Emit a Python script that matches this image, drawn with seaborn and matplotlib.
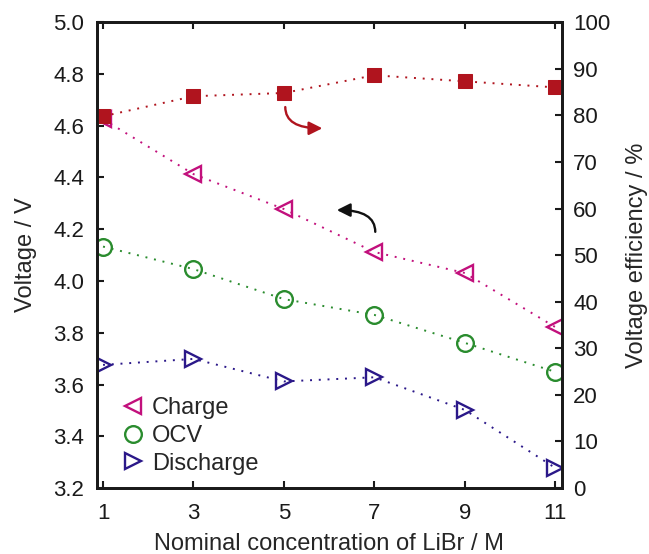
import matplotlib
matplotlib.use("Agg")
import matplotlib.pyplot as plt
import seaborn as sns
import pandas as pd
from matplotlib.lines import Line2D

# data
conc = [1, 3, 5, 7, 9, 11]
charge = [4.625, 4.413, 4.278, 4.112, 4.031, 3.822]
ocv = [4.133, 4.046, 3.930, 3.869, 3.761, 3.649]
discharge = [3.676, 3.699, 3.612, 3.628, 3.502, 3.278]
efficiency = [79.8, 84.1, 84.8, 88.6, 87.3, 86.0]

sns.set_style("white")
plt.rcParams["font.family"] = ["Liberation Sans", "DejaVu Sans"]

c_charge = "#c2107c"
c_ocv = "#2a8c2e"
c_dis = "#2b1889"
c_eff = "#b0141e"
dots = (0, (1, 3.5))

df = pd.DataFrame({"conc": conc, "Charge": charge, "OCV": ocv,
                   "Discharge": discharge, "eff": efficiency})

fig = plt.figure(figsize=(6.49, 5.54), dpi=100)
ax = fig.add_axes([0.149, 0.119, 0.717, 0.841])

series = [("Charge", "<", c_charge), ("OCV", "o", c_ocv), ("Discharge", ">", c_dis)]
for name, m, c in series:
    sns.lineplot(data=df, x="conc", y=name, ax=ax, color=c, linestyle=dots,
                 linewidth=1.4, marker=m, markersize=12, markerfacecolor="none",
                 markeredgecolor=c, markeredgewidth=1.7, legend=False)

ax.set_xlim(0.86, 11.15)
ax.set_ylim(3.2, 5.0)
ax.set_xticks(conc)
ax.set_yticks([3.2 + 0.2 * i for i in range(10)])
ax.set_yticklabels([f"{3.2 + 0.2 * i:.1f}" for i in range(10)])
ax.set_xlabel("Nominal concentration of LiBr / M", fontsize=17, labelpad=6)
ax.set_ylabel("Voltage / V", fontsize=17, labelpad=12)

ax2 = ax.twinx()
sns.lineplot(data=df, x="conc", y="eff", ax=ax2, color=c_eff, linestyle=dots,
             linewidth=1.4, marker="s", markersize=10, markerfacecolor=c_eff,
             markeredgecolor=c_eff, legend=False)
ax2.set_ylim(0, 100)
ax2.set_yticks(range(0, 101, 10))
ax2.set_ylabel("Voltage efficiency / %", fontsize=17, labelpad=11)
ax2.set_xlabel("")

for a in (ax, ax2):
    a.tick_params(direction="in", length=5, width=1.5, labelsize=16,
                  colors="#1a1a1a")
    for s in a.spines.values():
        s.set_linewidth(2)
        s.set_color("#1a1a1a")
ax.tick_params(axis="x", bottom=True, top=True, pad=11)
ax.tick_params(axis="y", left=True, right=False, pad=9)
ax2.tick_params(axis="y", right=True, pad=8)
ax2.tick_params(axis="x", bottom=False, top=False, labelbottom=False)

# curved arrows pointing to the relevant axis
ax.annotate("", xy=(5.85, 4.59), xytext=(5.03, 4.672),
            arrowprops=dict(arrowstyle="-|>", color=c_eff, lw=1.7,
                            mutation_scale=20, shrinkA=0, shrinkB=0,
                            connectionstyle="angle3,angleA=90,angleB=0"))
ax.annotate("", xy=(6.17, 4.274), xytext=(7.02, 4.19),
            arrowprops=dict(arrowstyle="-|>", color="#111111", lw=1.7,
                            mutation_scale=20, shrinkA=0, shrinkB=0,
                            connectionstyle="angle3,angleA=90,angleB=0"))

handles = [Line2D([], [], linestyle="none", marker=m, markersize=12,
                  markerfacecolor="none", markeredgecolor=c, markeredgewidth=1.7,
                  label=n) for n, m, c in series]
ax.legend(handles=handles, loc="lower left", bbox_to_anchor=(0.0, -0.017),
          frameon=False, fontsize=17, handletextpad=0.15, labelspacing=0.25,
          handlelength=1.3)

fig.savefig("out.png", dpi=100)
